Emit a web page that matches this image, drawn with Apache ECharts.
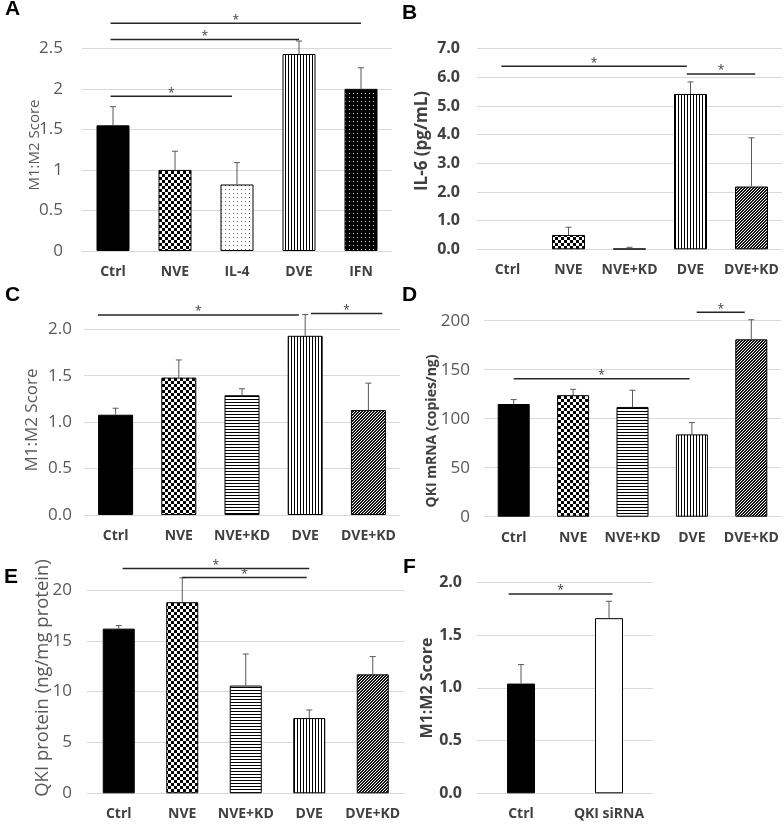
<!DOCTYPE html>
<html><head><meta charset="utf-8">
<script src="https://cdn.jsdelivr.net/npm/echarts@6/dist/echarts.min.js"></script>
<style>html,body{margin:0;padding:0;background:#fff}#c{width:784px;height:826px}</style>
</head><body><div id="c"></div>
<script>
// ---------- DATA ----------
// Panel A
const catsA = ['Ctrl', 'NVE', 'IL-4', 'DVE', 'IFN'];
const valsA = [1.55, 1.00, 0.82, 2.43, 2.00];
const errsA = [0.23, 0.23, 0.27, 0.16, 0.26];
const ticksA = [0, 0.5, 1, 1.5, 2, 2.5];
const sigA = [[-0.04, 4, 2.81], [-0.04, 3, 2.61], [-0.04, 1.92, 1.91]];
const titleA = 'M1:M2 Score';
// Panel B
const catsB = ['Ctrl', 'NVE', 'NVE+KD', 'DVE', 'DVE+KD'];
const valsB = [0, 0.50, 0.02, 5.42, 2.19];
const errsB = [0, 0.27, 0.05, 0.42, 1.70];
const ticksB = [0, 1, 2, 3, 4, 5, 6, 7];
const sigB = [[-0.1, 2.94, 6.39], [2.94, 4.06, 6.12]];
const titleB = 'IL-6 (pg/mL)';
// Panel C
const catsC = ['Ctrl', 'NVE', 'NVE+KD', 'DVE', 'DVE+KD'];
const valsC = [1.08, 1.48, 1.29, 1.93, 1.13];
const errsC = [0.07, 0.19, 0.07, 0.23, 0.29];
const ticksC = [0, 0.5, 1.0, 1.5, 2.0];
const sigC = [[-0.28, 2.9, 2.155], [3.09, 4.22, 2.17]];
const titleC = 'M1:M2 Score';
// Panel D
const catsD = ['Ctrl', 'NVE', 'NVE+KD', 'DVE', 'DVE+KD'];
const valsD = [115, 124, 112, 84, 181];
const errsD = [4.5, 6, 17, 12, 20];
const ticksD = [0, 50, 100, 150, 200];
const sigD = [[0, 2.96, 140.8], [3.08, 3.89, 208.5]];
const titleD = 'QKI mRNA (copies/ng)';
// Panel E
const catsE = ['Ctrl', 'NVE', 'NVE+KD', 'DVE', 'DVE+KD'];
const valsE = [16.2, 18.8, 10.6, 7.4, 11.7];
const errsE = [0.3, 2.4, 3.1, 0.8, 1.75];
const ticksE = [0, 5, 10, 15, 20];
const sigE = [[0.06, 3.0, 22.12], [1.0, 2.96, 21.24]];
const titleE = 'QKI protein (ng/mg protein)';
// Panel F
const catsF = ['Ctrl', 'QKI siRNA'];
const valsF = [1.04, 1.66];
const errsF = [0.18, 0.16];
const ticksF = [0, 0.5, 1.0, 1.5, 2.0];
const sigF = [[-0.14, 1.04, 1.89]];
const titleF = 'M1:M2 Score';
const panelLetters = ['A', 'B', 'C', 'D', 'E', 'F'];

// ---------- STYLES ----------
function mkPattern(w, h, fn) {
  const c = document.createElement('canvas');
  c.width = w; c.height = h;
  const g = c.getContext('2d');
  fn(g, w, h);
  return { image: c, repeat: 'repeat' };
}
const patterns = {
  'Ctrl': '#000',
  'NVE': mkPattern(6, 6, g => { g.fillStyle = '#fff'; g.fillRect(0, 0, 6, 6); g.fillStyle = '#000'; g.fillRect(0, 0, 3, 3); g.fillRect(3, 3, 3, 3); }),
  'IL-4': mkPattern(4, 4, g => { g.fillStyle = '#fff'; g.fillRect(0, 0, 4, 4); g.fillStyle = '#666'; g.fillRect(1, 1, 1, 1); }),
  'DVE': mkPattern(3, 1, g => { g.fillStyle = '#fff'; g.fillRect(0, 0, 3, 1); g.fillStyle = '#000'; g.fillRect(0, 0, 1, 1); }),
  'IFN': mkPattern(4, 4, g => { g.fillStyle = '#000'; g.fillRect(0, 0, 4, 4); g.fillStyle = '#ddd'; g.fillRect(1, 1, 1, 1); }),
  'NVE+KD': mkPattern(1, 3, g => { g.fillStyle = '#fff'; g.fillRect(0, 0, 1, 3); g.fillStyle = '#000'; g.fillRect(0, 0, 1, 1); }),
  'DVE+KD': mkPattern(3, 3, g => {
    g.fillStyle = '#fff'; g.fillRect(0, 0, 3, 3); g.fillStyle = '#111';
    for (let x = 0; x < 3; x++) for (let y = 0; y < 3; y++) if ((x + y) % 3 !== 0) g.fillRect(x, y, 1, 1);
  }),
  'QKI siRNA': '#fff'
};

const FONT = '"Open Sans", "Noto Sans", sans-serif';
const panels = [
  { cats: catsA, vals: valsA, errs: errsA, ticks: ticksA, sigs: sigA, title: titleA, dec: null,
    grid: { left: 82, top: 48.3, width: 310, height: 202.7 }, bw: 33,
    tick: { size: 17, weight: 'normal', color: '#595959', margin: 19 },
    name: { size: 15, weight: 'normal', color: '#595959', pos: [35, 145] }, letter: [5, 9] },
  { cats: catsB, vals: valsB, errs: errsB, ticks: ticksB, sigs: sigB, title: titleB, dec: 1,
    grid: { left: 477, top: 48.7, width: 305, height: 200.6 }, bw: 33,
    tick: { size: 16, weight: 'bold', color: '#404040', margin: 17 },
    name: { size: 17, weight: 'bold', color: '#404040', pos: [422, 141] }, letter: [402, 13] },
  { cats: catsC, vals: valsC, errs: errsC, ticks: ticksC, sigs: sigC, title: titleC, dec: 1,
    grid: { left: 84, top: 329.3, width: 316, height: 185.7 }, bw: 35,
    tick: { size: 17, weight: 'normal', color: '#595959', margin: 12 },
    name: { size: 17, weight: 'normal', color: '#595959', pos: [32, 420] }, letter: [5, 295] },
  { cats: catsD, vals: valsD, errs: errsD, ticks: ticksD, sigs: sigD, title: titleD, dec: 0,
    grid: { left: 484, top: 320.7, width: 297, height: 196 }, bw: 32,
    tick: { size: 17, weight: 'normal', color: '#595959', margin: 14 },
    name: { size: 14, weight: 'bold', color: '#404040', pos: [432, 431] }, letter: [402, 295] },
  { cats: catsE, vals: valsE, errs: errsE, ticks: ticksE, sigs: sigE, title: titleE, dec: 0,
    grid: { left: 87, top: 590, width: 317.5, height: 203.3 }, bw: 32,
    tick: { size: 17, weight: 'normal', color: '#595959', margin: 15 },
    name: { size: 18.5, weight: 'normal', color: '#595959', pos: [43, 678] }, letter: [4, 577] },
  { cats: catsF, vals: valsF, errs: errsF, ticks: ticksF, sigs: sigF, title: titleF, dec: 1,
    grid: { left: 477, top: 582.3, width: 176, height: 211 }, bw: 28,
    tick: { size: 16, weight: 'bold', color: '#404040', margin: 15 },
    name: { size: 16, weight: 'bold', color: '#404040', pos: [427, 688] }, letter: [403, 567] }
];

const option = {
  animation: false,
  backgroundColor: '#fff',
  grid: [], xAxis: [], yAxis: [], series: [],
  graphic: []
};

panels.forEach((p, k) => {
  option.grid.push(Object.assign({ containLabel: false }, p.grid));
  option.xAxis.push({
    gridIndex: k, type: 'category', data: p.cats,
    axisLine: { lineStyle: { color: '#d9d9d9', width: 1 } },
    axisTick: { show: false },
    axisLabel: { fontFamily: FONT, fontSize: 14, fontWeight: 'bold', color: '#404040', margin: 14, interval: 0 }
  });
  const iv = p.ticks[1] - p.ticks[0];
  option.yAxis.push({
    gridIndex: k, type: 'value', min: p.ticks[0], max: p.ticks[p.ticks.length - 1], interval: iv,
    axisLine: { show: false }, axisTick: { show: false },
    splitLine: { lineStyle: { color: '#d9d9d9', width: 1 } },
    axisLabel: {
      fontFamily: FONT, fontSize: p.tick.size, fontWeight: p.tick.weight, color: p.tick.color, margin: p.tick.margin,
      formatter: v => p.dec === null ? String(v) : Number(v).toFixed(p.dec)
    }
  });
  option.series.push({
    type: 'bar', xAxisIndex: k, yAxisIndex: k, barWidth: p.bw, silent: true,
    data: p.vals.map((v, i) => ({
      value: v,
      itemStyle: { color: patterns[p.cats[i]], borderColor: '#000', borderWidth: v === 0 ? 0 : 1 }
    })),
    z: 2
  });
  option.series.push({
    type: 'custom', xAxisIndex: k, yAxisIndex: k, silent: true, clip: false, z: 3,
    encode: { x: 0, y: [1, 2] },
    data: p.vals.map((v, i) => [i, v, v + p.errs[i]]),
    renderItem: (params, api) => {
      const lo = api.value(1), hi = api.value(2);
      if (!(hi > lo)) return null;
      const a = api.coord([api.value(0), lo]);
      const b = api.coord([api.value(0), hi]);
      const st = { stroke: '#595959', lineWidth: 1 };
      return { type: 'group', children: [
        { type: 'line', shape: { x1: a[0], y1: a[1], x2: b[0], y2: b[1] }, style: st },
        { type: 'line', shape: { x1: b[0] - 3, y1: b[1], x2: b[0] + 3, y2: b[1] }, style: st }
      ] };
    }
  });
  option.series.push({
    type: 'custom', xAxisIndex: k, yAxisIndex: k, silent: true, clip: false, z: 4,
    encode: { x: 0, y: 2 },
    data: p.sigs.map(s => [0, 0, s[2]]),
    renderItem: (params, api) => {
      const s = p.sigs[params.dataIndex];
      const band = api.size([1, 0])[0];
      const o = api.coord([0, api.value(2)]);
      const x1 = o[0] + s[0] * band, x2 = o[0] + s[1] * band, y = o[1];
      return { type: 'group', children: [
        { type: 'line', shape: { x1: x1, y1: y, x2: x2, y2: y }, style: { stroke: '#262626', lineWidth: 1.5 } },
        { type: 'text', style: { text: '*', x: (x1 + x2) / 2, y: y - 3, textAlign: 'center', textVerticalAlign: 'middle',
          font: '12px ' + FONT, fill: '#404040' } }
      ] };
    }
  });
  option.graphic.push({
    type: 'text', x: p.letter[0], y: p.letter[1],
    style: { text: panelLetters[k], font: 'bold 21px "Liberation Sans", Arial, sans-serif', fill: '#000',
      textAlign: 'left', textVerticalAlign: 'middle' }
  });
  option.graphic.push({
    type: 'text', x: p.name.pos[0], y: p.name.pos[1], rotation: Math.PI / 2,
    style: { text: p.title, font: p.name.weight + ' ' + p.name.size + 'px ' + FONT, fill: p.name.color,
      textAlign: 'center', textVerticalAlign: 'middle' }
  });
});

const chart = echarts.init(document.getElementById('c'), null, { renderer: 'canvas' });
chart.setOption(option);
</script>
</body></html>
